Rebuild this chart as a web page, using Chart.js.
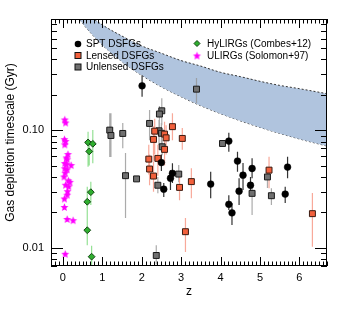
<!DOCTYPE html>
<html><head><meta charset="utf-8">
<script src="https://cdn.jsdelivr.net/npm/chart.js@4/dist/chart.umd.min.js"></script>
<style>html,body{margin:0;padding:0;background:#fff;}canvas{display:block;}</style>
</head><body>
<canvas id="c" width="344" height="313" style="width:344px;height:313px"></canvas>
<script>
// ---- data ----
const sptZ  = [2.01, 2.50, 2.78, 2.73, 2.56, 3.75, 4.21, 4.43, 4.57, 4.80, 4.76, 4.47, 4.21, 4.29, 5.70, 5.64];
const sptT  = [0.238, 0.053, 0.0429, 0.039, 0.0315, 0.0348, 0.0807, 0.0546, 0.0414, 0.0472, 0.034, 0.0303, 0.0234, 0.0198, 0.0485, 0.0286];
const sptLo = [0.192, 0.045, 0.0355, 0.031, 0.027, 0.0264, 0.0654, 0.0442, 0.031, 0.039, 0.030, 0.0231, 0.0209, 0.0156, 0.0389, 0.024];
const sptHi = [0.293, 0.062, 0.0524, 0.0457, 0.0355, 0.0442, 0.0948, 0.0654, 0.0525, 0.0578, 0.040, 0.039, 0.028, 0.024, 0.0593, 0.033];

const lensZ  = [2.78, 3.03, 2.33, 2.58, 2.62, 2.30, 2.58, 2.18, 2.41, 2.20, 2.30, 3.26, 2.96, 3.11, 5.23, 6.33];
const lensT  = [0.107, 0.085, 0.098, 0.0925, 0.086, 0.0834, 0.0686, 0.0567, 0.0575, 0.0467, 0.0407, 0.0365, 0.0326, 0.0137, 0.0457, 0.0195];
const lensLo = [0.082, 0.068, 0.062, 0.068, 0.062, 0.055, 0.050, 0.042, 0.041, 0.034, 0.030, 0.0264, 0.0254, 0.0092, 0.032, 0.0102];
const lensHi = [0.139, 0.104, 0.125, 0.118, 0.110, 0.108, 0.090, 0.075, 0.075, 0.062, 0.054, 0.0475, 0.040, 0.0179, 0.0593, 0.0292];

const unlZ  = [1.19, 1.22, 1.52, 1.59, 1.87, 2.51, 2.45, 2.20, 2.44, 2.50, 2.52, 2.94, 2.41, 2.37, 3.39, 4.05, 4.80, 5.19, 5.29];
const unlT  = [0.100, 0.090, 0.0937, 0.041, 0.0385, 0.146, 0.137, 0.114, 0.0987, 0.094, 0.0722, 0.0423, 0.034, 0.0086, 0.223, 0.077, 0.029, 0.040, 0.0277];
const unlLo = [0.059, 0.059, 0.0703, 0.0179, 0.0385, 0.110, 0.105, 0.082, 0.0746, 0.072, 0.0613, 0.036, 0.029, 0.0072, 0.170, 0.077, 0.019, 0.0322, 0.0231];
const unlHi = [0.139, 0.139, 0.115, 0.0638, 0.0385, 0.187, 0.160, 0.148, 0.122, 0.115, 0.082, 0.0505, 0.040, 0.0105, 0.277, 0.077, 0.033, 0.0457, 0.032];

const hyZ  = [0.64, 0.76, 0.67, 0.71, 0.62, 0.62, 0.73];
const hyT  = [0.0786, 0.0765, 0.0659, 0.0297, 0.0246, 0.0141, 0.0084];
const hyLo = [0.0488, 0.0524, 0.050, 0.0231, 0.019, 0.0105, 0.006];
const hyHi = [0.0967, 0.100, 0.080, 0.0364, 0.033, 0.019, 0.0104];

const ulirgZ = [0.05, 0.07, 0.04, 0.07, 0.05, 0.13, 0.09, 0.11, 0.05, 0.09, 0.21, 0.05, 0.11, 0.06, 0.03, 0.14, 0.18, 0.07, 0.15, 0.12, 0.11, 0.04, 0.04, 0.11, 0.26, 0.06];
const ulirgT = [0.122, 0.115, 0.083, 0.080, 0.075, 0.062, 0.058, 0.056, 0.052, 0.051, 0.050, 0.047, 0.046, 0.043, 0.040, 0.037, 0.036, 0.034, 0.033, 0.030, 0.028, 0.026, 0.022, 0.0174, 0.017, 0.0088];

// shaded band
const bandZ     = [0, 0.25, 0.5, 0.75, 1, 1.5, 2, 2.5, 3, 3.5, 4, 4.5, 5, 5.5, 6, 6.7];
const bandUpper = [1.57, 1.26, 1.05, 0.90, 0.785, 0.63, 0.52, 0.45, 0.39, 0.35, 0.31, 0.285, 0.26, 0.24, 0.225, 0.204];
const bandLower = [1.47, 1.06, 0.81, 0.646, 0.53, 0.382, 0.292, 0.233, 0.192, 0.161, 0.138, 0.120, 0.1055, 0.0938, 0.0841, 0.0732];

// ticks
const xTicks = [0, 1, 2, 3, 4, 5, 6];
const yTicks = [0.01, 0.1];
const yTickLabels = ['0.01', '0.10'];

// ---- helpers ----
const pts = (xs, ys) => xs.map((v, i) => ({x: v, y: ys[i]}));
const errPts = (xs, lo, hi) => { const d = []; xs.forEach((v, i) => { d.push({x: v, y: lo[i]}, {x: v, y: hi[i]}, {x: v, y: null}); }); return d; };

function makeStar(r, color) {
  const c = document.createElement('canvas');
  const s = Math.ceil(r * 2 + 2);
  c.width = s; c.height = s;
  const g = c.getContext('2d');
  g.fillStyle = color;
  g.beginPath();
  for (let k = 0; k < 10; k++) {
    const rr = k % 2 === 0 ? r : r * 0.45;
    const a = -Math.PI / 2 + k * Math.PI / 5;
    const px = s / 2 + rr * Math.cos(a), py = s / 2 + rr * Math.sin(a);
    k === 0 ? g.moveTo(px, py) : g.lineTo(px, py);
  }
  g.closePath(); g.fill();
  return c;
}
const starImg = makeStar(4.2, '#ff00ff');

const FONT = "'Liberation Sans', Arial, Helvetica, sans-serif";
const COL = {
  spt: '#000000', lens: '#f2603c', lensBar: 'rgba(245,140,120,0.75)',
  unl: '#707070', unlBar: 'rgba(150,150,150,0.8)', hy: '#2fae2f', hyBar: 'rgba(130,220,130,0.85)',
  sptBar: '#333333', band: 'rgb(176,196,222)'
};

const errDs = (data, color) => ({
  data, showLine: true, borderColor: color, borderWidth: 1.2, pointRadius: 0,
  spanGaps: false, fill: false, order: 2
});

// ---- plugins ----
const frameTicks = {
  id: 'frameTicks',
  afterDatasetsDraw(chart) {
    const {ctx, chartArea: a, scales: {x, y}} = chart;
    ctx.save();
    ctx.strokeStyle = '#000'; ctx.lineWidth = 1;
    ctx.beginPath();
    const xmin = Math.ceil(x.min * 10), xmax = Math.floor(x.max * 10);
    for (let i = xmin; i <= xmax; i++) {
      const px = Math.round(x.getPixelForValue(i / 10)) + 0.5;
      const L = (i % 10 === 0) ? 9 : 4.5;
      ctx.moveTo(px, a.bottom); ctx.lineTo(px, a.bottom - L);
      ctx.moveTo(px, a.top); ctx.lineTo(px, a.top + L);
    }
    [0.001, 0.01, 0.1, 1].forEach(dec => {
      for (let m = 1; m <= 9; m++) {
        const v = dec * m;
        if (v < y.min || v > y.max) continue;
        const py = Math.round(y.getPixelForValue(v)) + 0.5;
        const L = m === 1 ? 12 : 6;
        ctx.moveTo(a.left, py); ctx.lineTo(a.left + L, py);
        ctx.moveTo(a.right, py); ctx.lineTo(a.right - L, py);
      }
    });
    ctx.stroke();
    ctx.strokeRect(Math.round(a.left) + 0.5, Math.round(a.top) + 0.5, Math.round(a.right - a.left) - 1, Math.round(a.bottom - a.top) - 1);
    ctx.restore();
  }
};

const legendPlugin = {
  id: 'legendBoxes',
  afterDatasetsDraw(chart) {
    const ctx = chart.ctx;
    ctx.save();
    ctx.font = '10px ' + FONT;
    ctx.fillStyle = '#000';
    ctx.textBaseline = 'middle';
    ctx.textAlign = 'left';
    const rowsL = [
      {t: 'SPT DSFGs', m: 'circle', y: 44},
      {t: 'Lensed DSFGs', m: 'sqr', c: COL.lens, y: 55.5},
      {t: 'Unlensed DSFGs', m: 'sqr', c: COL.unl, y: 67}
    ];
    rowsL.forEach(r => {
      const mx = 78;
      ctx.lineWidth = 1; ctx.strokeStyle = '#111';
      if (r.m === 'circle') {
        ctx.fillStyle = '#000'; ctx.beginPath(); ctx.arc(mx, r.y, 3.3, 0, Math.PI * 2); ctx.fill();
      } else {
        ctx.fillStyle = r.c; ctx.fillRect(mx - 3, r.y - 3, 6, 6); ctx.strokeRect(mx - 3, r.y - 3, 6, 6);
      }
      ctx.fillStyle = '#000'; ctx.fillText(r.t, 86, r.y + 0.5);
    });
    // right legend
    const hyY = 43.5, ulY = 56;
    ctx.fillStyle = COL.hy; ctx.strokeStyle = '#114411';
    ctx.beginPath(); ctx.moveTo(197, hyY - 3); ctx.lineTo(200, hyY); ctx.lineTo(197, hyY + 3); ctx.lineTo(194, hyY); ctx.closePath(); ctx.fill(); ctx.stroke();
    ctx.drawImage(starImg, 197 - starImg.width / 2, ulY - starImg.height / 2);
    ctx.fillStyle = '#000';
    ctx.fillText('HyLIRGs (Combes+12)', 207, hyY + 0.5);
    ctx.fillText('ULIRGs (Solomon+97)', 207, ulY + 0.5);
    ctx.restore();
  }
};

// ---- chart ----
new Chart(document.getElementById('c'), {
  type: 'scatter',
  data: {
    datasets: [
      {label: 'SPT DSFGs', data: pts(sptZ, sptT), pointStyle: 'circle', pointRadius: 3.4, backgroundColor: COL.spt, borderColor: COL.spt, borderWidth: 0.5, order: 1},
      {label: 'Lensed DSFGs', data: pts(lensZ, lensT), pointStyle: 'rect', pointRadius: 4.2, backgroundColor: COL.lens, borderColor: '#3a1a10', borderWidth: 1, order: 1},
      {label: 'Unlensed DSFGs', data: pts(unlZ, unlT), pointStyle: 'rect', pointRadius: 4.2, backgroundColor: COL.unl, borderColor: '#1a1a1a', borderWidth: 1, order: 1},
      {label: 'HyLIRGs (Combes+12)', data: pts(hyZ, hyT), pointStyle: 'rectRot', pointRadius: 3.4, backgroundColor: COL.hy, borderColor: '#114411', borderWidth: 1, order: 1},
      {label: 'ULIRGs (Solomon+97)', data: pts(ulirgZ, ulirgT), pointStyle: starImg, pointRadius: 4, order: 1},
      errDs(errPts(sptZ, sptLo, sptHi), COL.sptBar),
      errDs(errPts(lensZ, lensLo, lensHi), COL.lensBar),
      errDs(errPts(unlZ, unlLo, unlHi), COL.unlBar),
      errDs(errPts(hyZ, hyLo, hyHi), COL.hyBar),
      {label: 'band upper', data: pts(bandZ, bandUpper), showLine: true, pointRadius: 0, borderColor: '#333', borderWidth: 1, borderDash: [2, 2], backgroundColor: COL.band, fill: '+1', cubicInterpolationMode: 'monotone', order: 3},
      {label: 'band lower', data: pts(bandZ, bandLower), showLine: true, pointRadius: 0, borderColor: '#333', borderWidth: 1, borderDash: [2, 2], fill: false, cubicInterpolationMode: 'monotone', order: 3}
    ]
  },
  options: {
    responsive: false, animation: false, devicePixelRatio: 1,
    layout: {padding: {top: 19, right: 17, left: 0, bottom: 0}},
    plugins: {legend: {display: false}, tooltip: {enabled: false}},
    scales: {
      x: {
        type: 'linear', min: -0.3, max: 6.7,
        grid: {display: false, drawTicks: false}, border: {display: false},
        afterBuildTicks: s => { s.ticks = xTicks.map(v => ({value: v})); },
        afterFit: s => { s.height = 47; },
        ticks: {autoSkip: false, maxRotation: 0, padding: 5, color: '#000', font: {family: FONT, size: 11}},
        title: {display: true, text: 'z', color: '#000', font: {family: FONT, size: 12}, padding: {top: 0, bottom: 14}}
      },
      y: {
        type: 'logarithmic', min: 0.007, max: 0.88,
        grid: {display: false, drawTicks: false}, border: {display: false},
        afterBuildTicks: s => { s.ticks = yTicks.map(v => ({value: v})); },
        afterFit: s => { s.width = 51; },
        ticks: {autoSkip: false, padding: 7, color: '#000', font: {family: FONT, size: 11},
          callback: (v, i) => yTickLabels[i]},
        title: {display: true, text: 'Gas depletion timescale (Gyr)', color: '#000', font: {family: FONT, size: 12}, padding: {top: 3, bottom: 0}}
      }
    }
  },
  plugins: [frameTicks, legendPlugin]
});
</script>
</body></html>
